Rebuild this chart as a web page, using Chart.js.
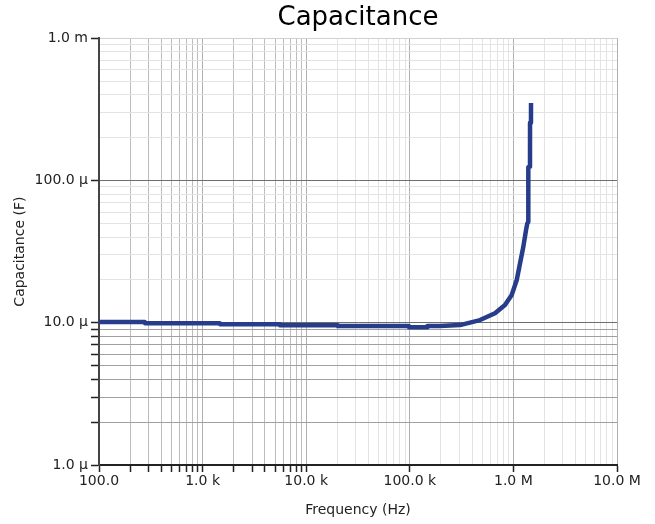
<!DOCTYPE html>
<html>
<head>
<meta charset="utf-8">
<script src="https://cdn.jsdelivr.net/npm/chart.js@4/dist/chart.umd.min.js"></script>
<style>
  html, body { margin: 0; padding: 0; background: #fff; }
  #wrap { width: 655px; height: 524px; }
</style>
</head>
<body>
<div id="wrap"><canvas id="cap-chart"></canvas></div>
<script>
// values (frequency in Hz, capacitance in µF)
const freqHz = [100, 277, 279, 1470, 1480, 5580, 5600, 20000, 20200, 98000, 98500, 147000, 148000,
    195000, 305000, 476000, 664000, 829000, 963000, 1077000, 1158000, 1247000, 1324000, 1362000,
    1390000, 1393000, 1446000, 1447000, 1478000, 1479000]
const capMicroF = [10.1, 10.1, 9.9, 9.9, 9.75, 9.75, 9.6, 9.6, 9.48, 9.48, 9.28, 9.28, 9.48,
    9.48, 9.63, 10.44, 11.65, 13.3, 15.65, 19.96, 26.1, 34.2, 44.8, 49.9,
    51, 124, 125, 254, 256, 350]

const xTickValues = [100, 1e3, 1e4, 1e5, 1e6, 1e7]
const xTickLabels = ["100.0", "1.0 k", "10.0 k", "100.0 k", "1.0 M", "10.0 M"]
const yTickValues = [1e-6, 1e-5, 1e-4, 1e-3]
const yTickLabels = ["1.0 µ", "10.0 µ", "100.0 µ", "1.0 m"]

// decades that get the darker minor grid and minor tick marks
const xDarkDecade = [100, 1e4]
const yDarkDecade = [1e-6, 1e-5]

let points = freqHz.map((f, i) => ({x: f, y: capMicroF[i] * 1e-6}))

// majors plus 2..9 minors in each decade
function logTicks(decades) {
    let ticks = []
    for (let d = 0; d < decades.length; ++d) {
        ticks.push({value: decades[d], major: true})
        if (d < decades.length - 1) {
            for (let m = 2; m <= 9; ++m) {
                ticks.push({value: decades[d] * m, major: false})
            }
        }
    }
    return ticks
}

function isMajor(v, list) {
    return list.some(t => Math.abs(t - v) / t < 1e-6)
}
function inRange(v, r) {
    return v >= r[0] * 0.999 && v <= r[1] * 1.001
}

function label(v, values, labels) {
    for (let i = 0; i < values.length; ++i) {
        if (Math.abs(values[i] - v) / values[i] < 1e-6) return labels[i]
    }
    return ""
}

new Chart(document.getElementById("cap-chart"), {
    type: 'line',
    data: {
        datasets: [{
            label: "Capacitance",
            data: points,
            borderColor: "#273c8a",
            backgroundColor: "#273c8a",
            borderWidth: 4.5,
            borderJoinStyle: 'round',
            pointRadius: 0,
            tension: 0,
            fill: false
        }]
    },
    options: {
        responsive: true,
        maintainAspectRatio: false,
        animation: false,
        layout: {padding: {left: 0, right: 38, top: 0, bottom: 0}},
        plugins: {
            legend: {display: false},
            tooltip: {enabled: false},
            title: {
                display: true,
                fullSize: false,   // centre over the plot area only
                text: 'Capacitance',
                color: '#000',
                font: {family: 'DejaVu Sans', size: 26, weight: 'normal'},
                padding: {top: 3, bottom: 4}
            }
        },
        scales: {
            x: {
                type: 'logarithmic',
                min: 100,
                max: 1e7,
                afterBuildTicks: scale => { scale.ticks = logTicks(xTickValues) },
                afterFit: scale => { scale.height = 59 },
                ticks: {
                    autoSkip: false,
                    maxRotation: 0,
                    padding: 1,
                    color: '#222',
                    font: {family: 'DejaVu Sans', size: 14},
                    callback: v => label(v, xTickValues, xTickLabels)
                },
                grid: {
                    lineWidth: 1,
                    tickLength: 7,
                    tickWidth: 1.5,
                    color: ctx => {
                        let v = ctx.tick.value
                        if (isMajor(v, xTickValues)) return '#b0b0b0'
                        return inRange(v, xDarkDecade) ? '#bdbdbd' : '#e3e3e3'
                    },
                    tickColor: ctx => {
                        let v = ctx.tick.value
                        if (isMajor(v, xTickValues) || inRange(v, xDarkDecade)) return '#222'
                        return 'rgba(0,0,0,0)'
                    }
                },
                border: {display: true, color: '#222', width: 2},
                title: {
                    display: true,
                    text: 'Frequency (Hz)',
                    color: '#222',
                    font: {family: 'DejaVu Sans', size: 14},
                    padding: {top: 5, bottom: 5}
                }
            },
            y: {
                type: 'logarithmic',
                min: 1e-6,
                max: 1e-3,
                afterBuildTicks: scale => { scale.ticks = logTicks(yTickValues) },
                afterFit: scale => { scale.width = 99 },
                ticks: {
                    autoSkip: false,
                    padding: 3,
                    color: '#222',
                    font: {family: 'DejaVu Sans', size: 14},
                    callback: v => label(v, yTickValues, yTickLabels)
                },
                grid: {
                    lineWidth: 1,
                    tickLength: 8,
                    tickWidth: 1.5,
                    color: ctx => {
                        let v = ctx.tick.value
                        if (Math.abs(v - 1e-3) < 1e-9) return '#d0d0d0'
                        if (isMajor(v, yTickValues)) return '#6e6e6e'
                        return inRange(v, yDarkDecade) ? '#a0a0a0' : '#e3e3e3'
                    },
                    tickColor: ctx => {
                        let v = ctx.tick.value
                        if (isMajor(v, yTickValues) || inRange(v, yDarkDecade)) return '#222'
                        return 'rgba(0,0,0,0)'
                    }
                },
                border: {display: true, color: '#444', width: 2},
                title: {
                    display: true,
                    text: 'Capacitance (F)',
                    color: '#222',
                    font: {family: 'DejaVu Sans', size: 14},
                    padding: {top: 12, bottom: 12}
                }
            }
        }
    }
});
</script>
</body>
</html>
